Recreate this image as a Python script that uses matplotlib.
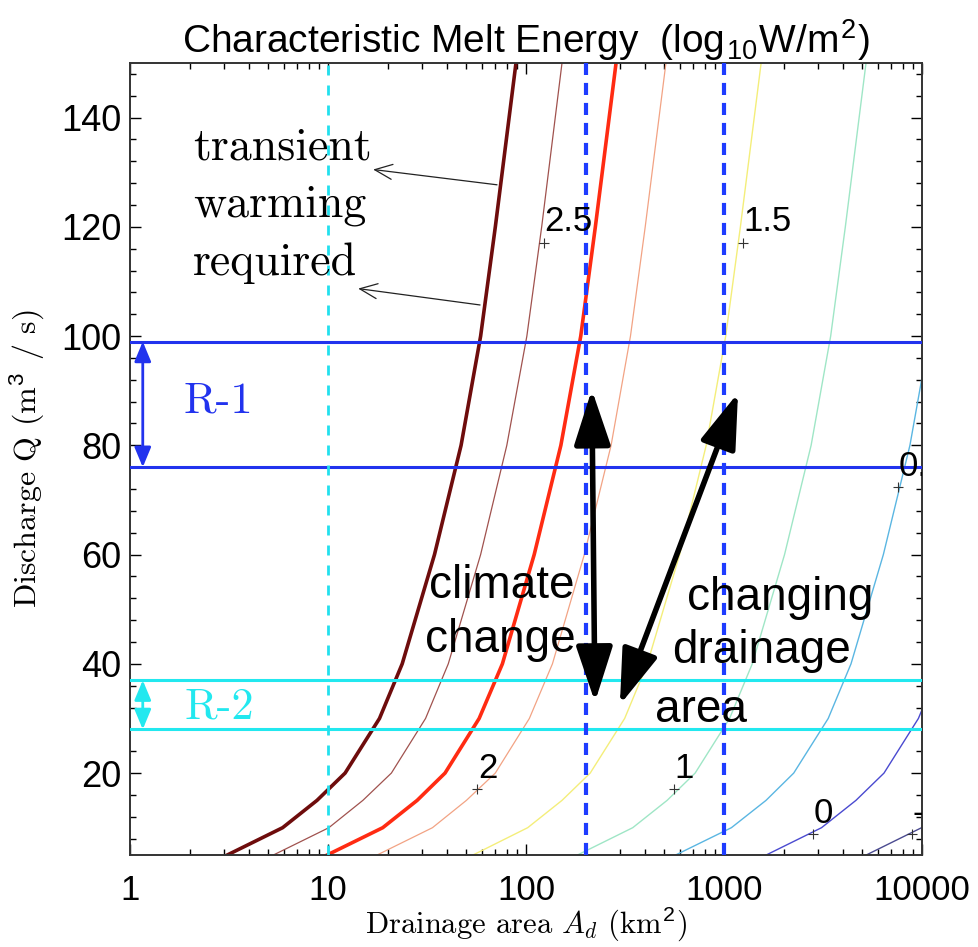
import matplotlib
matplotlib.use("Agg")
import matplotlib.pyplot as plt
from matplotlib.ticker import MultipleLocator, FixedLocator, FixedFormatter, LogLocator, NullFormatter

plt.rcParams['mathtext.fontset'] = 'custom'
plt.rcParams['mathtext.rm'] = 'Liberation Sans'
plt.rcParams['mathtext.it'] = 'cmmi10'
plt.rcParams['axes.unicode_minus'] = False

SANS = 'Liberation Sans'
SERIF = ['cmr10', 'DejaVu Serif']

# === DANE: kontury energii topnienia (Q [m3/s] -> A_d [km2]) ===
q_grid = [5, 10, 15, 20, 30, 40, 60, 80, 100, 120, 150]
area_darkbrown = [3.1, 5.9, 8.8, 12.2, 18.2, 23.7, 34.5, 47, 59, 70, 89]
area_brown = [5.3, 10.1, 15.0, 20.9, 31.1, 40.5, 59, 80, 101, 120, 152]
area_red = [9.9, 18.9, 28.2, 39.0, 58, 76, 110, 150, 189, 224, 285]
area_salmon = [17.7, 33.7, 50, 70, 104, 136, 197, 269, 337, 400, 509]
area_yellow = [54, 102, 152, 211, 315, 410, 597, 813, 1020, 1210, 1540]
area_green = [182, 346, 516, 715, 1067, 1389, 2022, 2754, 3457, 4100, 5215]
area_skyblue = [570, 1090, 1630, 2250, 3360, 4380, 6380, 8690, 10900, 12900, 16400]
area_blue = [1634, 3109, 4638, 6429, 9591, 12490, 18180]
area_darkblue = [5230, 9953, 14850, 20580, 30700]

# etykiety konturów (punkt "+" i tekst)
label_area = [123, 56.6, 1247, 559, 2814, 7566, 8900]
label_q = [117.1, 17.1, 117.1, 17.1, 8.8, 72.4, 8.8]
label_txt = ['2.5', '2', '1.5', '1', '0', '0.5', '-0.5']

# zakresy przepływu R-1 i R-2
r1_q = [76, 99]
r2_q = [28, 37]
cyan_area = 10
blue_areas = [200, 1000]

# strzałki zmian
climate_arrow = [(215, 90.2), (223, 33.0)]
drainage_arrow = [(1177, 89.6), (298, 32.5)]

curves = [
    (area_darkbrown, '#6e0c0c', 2.6),
    (area_brown, '#a0524e', 0.9),
    (area_red, '#ff2b12', 2.6),
    (area_salmon, '#f2a384', 0.9),
    (area_yellow, '#f4ee7a', 1.0),
    (area_green, '#9fe6c6', 1.0),
    (area_skyblue, '#5ab6e2', 1.0),
    (area_blue, '#4a4ad0', 1.0),
    (area_darkblue, '#4a4a90', 1.0),
]

fig = plt.figure(figsize=(9.79, 9.47), dpi=100)
ax = fig.add_axes([130 / 979, 1 - 855 / 947, 792 / 979, 792 / 947])

for area, col, lw in curves:
    ax.plot(area, q_grid[:len(area)], color=col, lw=lw, zorder=2)

# linie poziome i pionowe
for q in r1_q:
    ax.axhline(q, color='#2233ee', lw=2.2, zorder=3)
for q in r2_q:
    ax.axhline(q, color='#22e8ef', lw=2.2, zorder=3)
ax.axvline(cyan_area, color='#22e0ee', lw=2.0, ls=(0, (3.6, 3.6)), zorder=3)
for a in blue_areas:
    ax.axvline(a, color='#1e3cff', lw=3.0, ls=(0, (2.9, 1.9)), zorder=3)

# etykiety konturów (przycięte do osi jak w oryginale)
for a, q, t in zip(label_area, label_q, label_txt):
    ax.plot(a, q, marker='+', color='#333333', ms=7, mew=0.8, zorder=4)
    ann = ax.annotate(t, xy=(a, q), xytext=(0.5, 15), textcoords='offset points',
                      ha='left', va='center', fontsize=25, family=SANS, zorder=5)
    ann.set_clip_path(ax.patch)

# strzałki R-1 / R-2
ax.annotate('', xy=(1.16, r1_q[1]), xytext=(1.16, r1_q[0]),
            arrowprops=dict(arrowstyle='<|-|>,head_length=0.6,head_width=0.25',
                            mutation_scale=20, lw=2, color='#2233ee', shrinkA=0, shrinkB=0))
ax.annotate('', xy=(1.16, r2_q[1]), xytext=(1.16, r2_q[0]),
            arrowprops=dict(arrowstyle='<|-|>,head_length=0.6,head_width=0.25',
                            mutation_scale=20, lw=2, color='#22e8ef', shrinkA=0, shrinkB=0))
ax.text(2.78, 88, 'R-1', color='#2233ee', fontsize=32, family=SERIF, ha='center', va='center')
ax.text(2.81, 32, 'R-2', color='#22e8ef', fontsize=32, family=SERIF, ha='center', va='center')

# duże strzałki
for (top, bottom) in [climate_arrow, drainage_arrow]:
    ax.annotate('', xy=top, xytext=bottom,
                arrowprops=dict(arrowstyle='<|-|>,head_length=0.85,head_width=0.28',
                                mutation_scale=40, lw=4.0, color='k', shrinkA=0, shrinkB=0),
                zorder=6)

# opisy
ax.text(75.7, 52.1, 'climate', fontsize=33, family=SANS, ha='center', va='baseline', zorder=5)
ax.text(73.9, 42.2, 'change', fontsize=33, family=SANS, ha='center', va='baseline', zorder=5)
ax.text(1918, 49.9, 'changing', fontsize=33, family=SANS, ha='center', va='baseline', zorder=5)
ax.text(1538, 40.2, 'drainage', fontsize=33, family=SANS, ha='center', va='baseline', zorder=5)
ax.text(766, 29.3, 'area', fontsize=33, family=SANS, ha='center', va='baseline', zorder=5)

for txt, q in [('transient', 132.3), ('warming', 121.9), ('required', 111.2)]:
    ax.text(2.08, q, txt, fontsize=33, family=SERIF, ha='left', va='baseline', zorder=5)
ax.annotate('', xy=(16.9, 130.5), xytext=(71.4, 127.7),
            arrowprops=dict(arrowstyle='->,head_length=0.7,head_width=0.3',
                            mutation_scale=18, lw=0.9, color='#222222', shrinkA=0, shrinkB=0))
ax.annotate('', xy=(14.2, 108.7), xytext=(58.6, 105.7),
            arrowprops=dict(arrowstyle='->,head_length=0.7,head_width=0.3',
                            mutation_scale=18, lw=0.9, color='#222222', shrinkA=0, shrinkB=0))

# osie
ax.set_xscale('log')
ax.set_xlim(1, 10000)
ax.set_ylim(5, 150)
ax.xaxis.set_major_locator(FixedLocator([1, 10, 100, 1000, 10000]))
ax.xaxis.set_major_formatter(FixedFormatter(['1', '10', '100', '1000', '10000']))
ax.xaxis.set_minor_locator(LogLocator(base=10, subs=range(2, 10)))
ax.xaxis.set_minor_formatter(NullFormatter())
ax.yaxis.set_major_locator(MultipleLocator(20))
ax.yaxis.set_minor_locator(MultipleLocator(4))
ax.tick_params(which='both', direction='in', top=True, right=True, width=1)
ax.tick_params(which='major', length=8)
ax.tick_params(which='minor', length=4)
ax.tick_params(axis='x', which='major', pad=14, labelsize=25)
ax.tick_params(axis='y', which='major', pad=6, labelsize=26)
for lab in ax.get_xticklabels() + ax.get_yticklabels():
    lab.set_family(SANS)
for s in ax.spines.values():
    s.set_linewidth(1.4)
    s.set_color('#333333')

ax.set_xlabel('Drainage area $A_d$ (km$^2$)', fontsize=22, family=SERIF, labelpad=-2)
ax.set_ylabel('Discharge Q (m$^3$ / s)', fontsize=23, family=SERIF, labelpad=10)
ax.set_title('Characteristic Melt Energy  (log$_{10}$W/m$^2$)', fontsize=28, family=SANS, pad=4)

fig.savefig('out.png', dpi=100)
